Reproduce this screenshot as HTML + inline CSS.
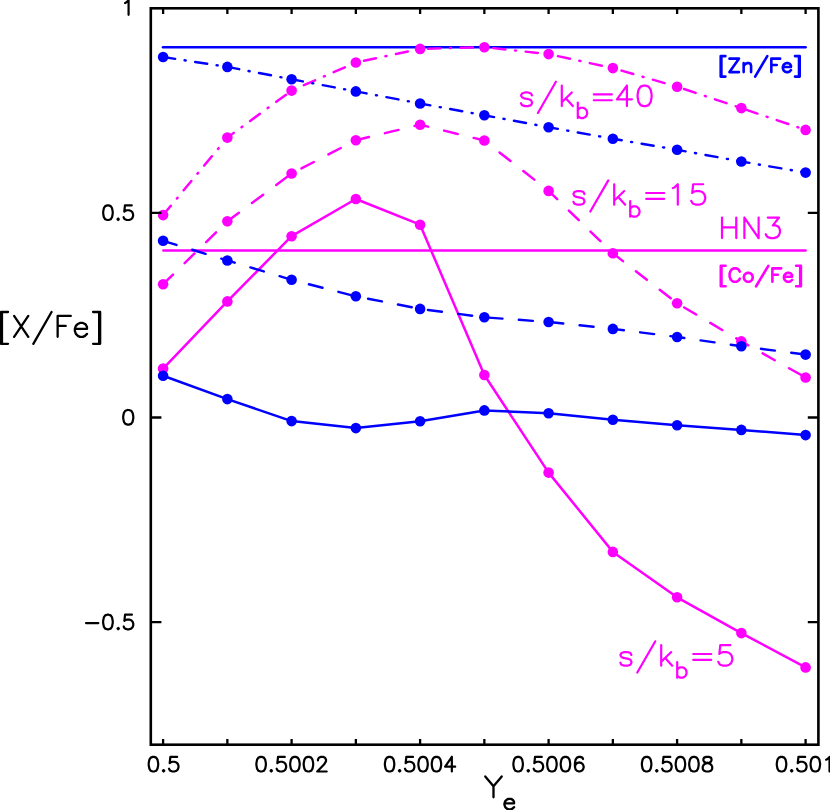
<!DOCTYPE html>
<html><head><meta charset="utf-8"><title>[X/Fe] vs Ye</title>
<style>html,body{margin:0;padding:0;background:#fff;font-family:"Liberation Sans",sans-serif;}svg{display:block;}</style></head>
<body>
<svg width="830" height="810" viewBox="0 0 830 810" role="img" aria-label="[X/Fe] versus Ye">
<desc>[X/Fe] vs Y_e; s/k_b=5, 15, 40; HN3 [Zn/Fe] [Co/Fe]; ticks 0.5 0.5002 0.5004 0.5006 0.5008 0.501; 1 0.5 0 -0.5</desc>
<rect width="830" height="810" fill="#fff"/>
<line x1="163.0" y1="47.2" x2="805.6" y2="47.2" stroke="#0000ff" stroke-width="2.5" stroke-linecap="round"/>
<line x1="163.4" y1="250.5" x2="805.6" y2="250.5" stroke="#ff00ff" stroke-width="2.5" stroke-linecap="round"/>
<polyline points="163.10,368.60 227.35,301.40 291.60,236.20 355.85,199.00 420.10,224.70 484.35,375.00 548.60,472.60 612.85,551.90 677.10,597.30 741.35,633.10 805.60,667.40" fill="none" stroke="#ff00ff" stroke-width="2.5" stroke-linecap="round" stroke-linejoin="round"/>
<circle cx="163.10" cy="368.60" r="5.3" fill="#ff00ff"/><circle cx="227.35" cy="301.40" r="5.3" fill="#ff00ff"/><circle cx="291.60" cy="236.20" r="5.3" fill="#ff00ff"/><circle cx="355.85" cy="199.00" r="5.3" fill="#ff00ff"/><circle cx="420.10" cy="224.70" r="5.3" fill="#ff00ff"/><circle cx="484.35" cy="375.00" r="5.3" fill="#ff00ff"/><circle cx="548.60" cy="472.60" r="5.3" fill="#ff00ff"/><circle cx="612.85" cy="551.90" r="5.3" fill="#ff00ff"/><circle cx="677.10" cy="597.30" r="5.3" fill="#ff00ff"/><circle cx="741.35" cy="633.10" r="5.3" fill="#ff00ff"/><circle cx="805.60" cy="667.40" r="5.3" fill="#ff00ff"/>
<g transform="scale(1 0.97590)"><polyline points="163.10,291.22 227.35,226.76 291.60,177.78 355.85,143.66 420.10,127.78 484.35,143.97 548.60,195.61 612.85,259.55 677.10,310.69 741.35,349.83 805.60,386.82" fill="none" stroke="#ff00ff" stroke-width="2.5" stroke-linecap="round" stroke-linejoin="round" stroke-dasharray="14 16.5"/></g>
<circle cx="163.10" cy="284.20" r="5.3" fill="#ff00ff"/><circle cx="227.35" cy="221.30" r="5.3" fill="#ff00ff"/><circle cx="291.60" cy="173.50" r="5.3" fill="#ff00ff"/><circle cx="355.85" cy="140.20" r="5.3" fill="#ff00ff"/><circle cx="420.10" cy="124.70" r="5.3" fill="#ff00ff"/><circle cx="484.35" cy="140.50" r="5.3" fill="#ff00ff"/><circle cx="548.60" cy="190.90" r="5.3" fill="#ff00ff"/><circle cx="612.85" cy="253.30" r="5.3" fill="#ff00ff"/><circle cx="677.10" cy="303.20" r="5.3" fill="#ff00ff"/><circle cx="741.35" cy="341.40" r="5.3" fill="#ff00ff"/><circle cx="805.60" cy="377.50" r="5.3" fill="#ff00ff"/>
<g transform="scale(1 0.97590)"><polyline points="163.10,220.41 227.35,141.00 291.60,92.84 355.85,64.04 420.10,50.11 484.35,48.37 548.60,55.44 612.85,69.78 677.10,88.84 741.35,110.77 805.60,133.11" fill="none" stroke="#ff00ff" stroke-width="2.5" stroke-linecap="round" stroke-linejoin="round" stroke-dasharray="12.25 9.7 1 9.7"/></g>
<circle cx="163.10" cy="215.10" r="5.3" fill="#ff00ff"/><circle cx="227.35" cy="137.60" r="5.3" fill="#ff00ff"/><circle cx="291.60" cy="90.60" r="5.3" fill="#ff00ff"/><circle cx="355.85" cy="62.50" r="5.3" fill="#ff00ff"/><circle cx="420.10" cy="48.90" r="5.3" fill="#ff00ff"/><circle cx="484.35" cy="47.20" r="5.3" fill="#ff00ff"/><circle cx="548.60" cy="54.10" r="5.3" fill="#ff00ff"/><circle cx="612.85" cy="68.10" r="5.3" fill="#ff00ff"/><circle cx="677.10" cy="86.70" r="5.3" fill="#ff00ff"/><circle cx="741.35" cy="108.10" r="5.3" fill="#ff00ff"/><circle cx="805.60" cy="129.90" r="5.3" fill="#ff00ff"/>
<polyline points="163.10,375.80 227.35,399.10 291.60,421.10 355.85,428.10 420.10,421.20 484.35,410.40 548.60,413.30 612.85,419.80 677.10,425.30 741.35,429.90 805.60,435.10" fill="none" stroke="#0000ff" stroke-width="2.5" stroke-linecap="round" stroke-linejoin="round"/>
<circle cx="163.10" cy="375.80" r="5.3" fill="#0000ff"/><circle cx="227.35" cy="399.10" r="5.3" fill="#0000ff"/><circle cx="291.60" cy="421.10" r="5.3" fill="#0000ff"/><circle cx="355.85" cy="428.10" r="5.3" fill="#0000ff"/><circle cx="420.10" cy="421.20" r="5.3" fill="#0000ff"/><circle cx="484.35" cy="410.40" r="5.3" fill="#0000ff"/><circle cx="548.60" cy="413.30" r="5.3" fill="#0000ff"/><circle cx="612.85" cy="419.80" r="5.3" fill="#0000ff"/><circle cx="677.10" cy="425.30" r="5.3" fill="#0000ff"/><circle cx="741.35" cy="429.90" r="5.3" fill="#0000ff"/><circle cx="805.60" cy="435.10" r="5.3" fill="#0000ff"/>
<g transform="scale(1 0.97590)"><polyline points="163.10,246.75 227.35,266.93 291.60,286.71 355.85,303.62 420.10,316.53 484.35,325.13 548.60,329.95 612.85,337.02 677.10,345.32 741.35,354.75 805.60,363.36" fill="none" stroke="#0000ff" stroke-width="2.5" stroke-linecap="round" stroke-linejoin="round" stroke-dasharray="14 16.5"/></g>
<circle cx="163.10" cy="240.80" r="5.3" fill="#0000ff"/><circle cx="227.35" cy="260.50" r="5.3" fill="#0000ff"/><circle cx="291.60" cy="279.80" r="5.3" fill="#0000ff"/><circle cx="355.85" cy="296.30" r="5.3" fill="#0000ff"/><circle cx="420.10" cy="308.90" r="5.3" fill="#0000ff"/><circle cx="484.35" cy="317.30" r="5.3" fill="#0000ff"/><circle cx="548.60" cy="322.00" r="5.3" fill="#0000ff"/><circle cx="612.85" cy="328.90" r="5.3" fill="#0000ff"/><circle cx="677.10" cy="337.00" r="5.3" fill="#0000ff"/><circle cx="741.35" cy="346.20" r="5.3" fill="#0000ff"/><circle cx="805.60" cy="354.60" r="5.3" fill="#0000ff"/>
<g transform="scale(1 0.97590)"><polyline points="163.10,58.41 227.35,68.55 291.60,81.26 355.85,93.66 420.10,106.06 484.35,118.15 548.60,130.34 612.85,142.23 677.10,153.50 741.35,165.49 805.60,176.86" fill="none" stroke="#0000ff" stroke-width="2.5" stroke-linecap="round" stroke-linejoin="round" stroke-dasharray="12.15 9.65 1 9.65"/></g>
<circle cx="163.10" cy="57.00" r="5.3" fill="#0000ff"/><circle cx="227.35" cy="66.90" r="5.3" fill="#0000ff"/><circle cx="291.60" cy="79.30" r="5.3" fill="#0000ff"/><circle cx="355.85" cy="91.40" r="5.3" fill="#0000ff"/><circle cx="420.10" cy="103.50" r="5.3" fill="#0000ff"/><circle cx="484.35" cy="115.30" r="5.3" fill="#0000ff"/><circle cx="548.60" cy="127.20" r="5.3" fill="#0000ff"/><circle cx="612.85" cy="138.80" r="5.3" fill="#0000ff"/><circle cx="677.10" cy="149.80" r="5.3" fill="#0000ff"/><circle cx="741.35" cy="161.50" r="5.3" fill="#0000ff"/><circle cx="805.60" cy="172.60" r="5.3" fill="#0000ff"/>
<rect x="150.8" y="8.3" width="667.60" height="736.40" fill="none" stroke="#000" stroke-width="2.6"/>
<path d="M163.10 744.7 v-5.8 M163.10 8.3 v5.8 M227.35 744.7 v-5.8 M227.35 8.3 v5.8 M291.60 744.7 v-5.8 M291.60 8.3 v5.8 M355.85 744.7 v-5.8 M355.85 8.3 v5.8 M420.10 744.7 v-5.8 M420.10 8.3 v5.8 M484.35 744.7 v-5.8 M484.35 8.3 v5.8 M548.60 744.7 v-5.8 M548.60 8.3 v5.8 M612.85 744.7 v-5.8 M612.85 8.3 v5.8 M677.10 744.7 v-5.8 M677.10 8.3 v5.8 M741.35 744.7 v-5.8 M741.35 8.3 v5.8 M805.60 744.7 v-5.8 M805.60 8.3 v5.8 M150.8 212.90 h10.6 M818.4 212.90 h-10.6 M150.8 417.50 h10.6 M818.4 417.50 h-10.6 M150.8 622.10 h10.6 M818.4 622.10 h-10.6" stroke="#000" stroke-width="2.3" fill="none"/>
<path d="M152.76 756.90 L150.73 757.60 L149.38 759.68 L148.70 763.16 L148.70 765.25 L149.38 768.72 L150.73 770.80 L152.76 771.50 L154.12 771.50 L156.15 770.80 L157.50 768.72 L158.18 765.25 L158.18 763.16 L157.50 759.68 L156.15 757.60 L154.12 756.90 L152.76 756.90 M163.60 770.11 L162.92 770.80 L163.60 771.50 L164.28 770.80 L163.60 770.11 M177.15 756.90 L170.37 756.90 L169.70 763.16 L170.37 762.47 L172.40 761.77 L174.44 761.77 L176.47 762.47 L177.82 763.86 L178.50 765.94 L178.50 767.33 L177.82 769.41 L176.47 770.80 L174.44 771.50 L172.40 771.50 L170.37 770.80 L169.70 770.11 L169.02 768.72" fill="none" stroke="#000000" stroke-width="2.2" stroke-linecap="round" stroke-linejoin="round"/>
<path d="M260.46 756.90 L258.43 757.60 L257.08 759.68 L256.40 763.16 L256.40 765.25 L257.08 768.72 L258.43 770.80 L260.46 771.50 L261.81 771.50 L263.84 770.80 L265.19 768.72 L265.86 765.25 L265.86 763.16 L265.19 759.68 L263.84 757.60 L261.81 756.90 L260.46 756.90 M271.27 770.11 L270.60 770.80 L271.27 771.50 L271.95 770.80 L271.27 770.11 M284.79 756.90 L278.03 756.90 L277.35 763.16 L278.03 762.47 L280.06 761.77 L282.09 761.77 L284.11 762.47 L285.47 763.86 L286.14 765.94 L286.14 767.33 L285.47 769.41 L284.11 770.80 L282.09 771.50 L280.06 771.50 L278.03 770.80 L277.35 770.11 L276.68 768.72 M294.25 756.90 L292.23 757.60 L290.87 759.68 L290.20 763.16 L290.20 765.25 L290.87 768.72 L292.23 770.80 L294.25 771.50 L295.61 771.50 L297.63 770.80 L298.99 768.72 L299.66 765.25 L299.66 763.16 L298.99 759.68 L297.63 757.60 L295.61 756.90 L294.25 756.90 M307.77 756.90 L305.75 757.60 L304.39 759.68 L303.72 763.16 L303.72 765.25 L304.39 768.72 L305.75 770.80 L307.77 771.50 L309.12 771.50 L311.15 770.80 L312.50 768.72 L313.18 765.25 L313.18 763.16 L312.50 759.68 L311.15 757.60 L309.12 756.90 L307.77 756.90 M317.91 760.38 L317.91 759.68 L318.59 758.29 L319.26 757.60 L320.62 756.90 L323.32 756.90 L324.67 757.60 L325.35 758.29 L326.02 759.68 L326.02 761.08 L325.35 762.47 L324.00 764.55 L317.24 771.50 L326.70 771.50" fill="none" stroke="#000000" stroke-width="2.2" stroke-linecap="round" stroke-linejoin="round"/>
<path d="M388.92 756.90 L386.91 757.60 L385.57 759.68 L384.90 763.16 L384.90 765.25 L385.57 768.72 L386.91 770.80 L388.92 771.50 L390.26 771.50 L392.26 770.80 L393.60 768.72 L394.27 765.25 L394.27 763.16 L393.60 759.68 L392.26 757.60 L390.26 756.90 L388.92 756.90 M399.63 770.11 L398.96 770.80 L399.63 771.50 L400.30 770.80 L399.63 770.11 M413.02 756.90 L406.32 756.90 L405.66 763.16 L406.32 762.47 L408.33 761.77 L410.34 761.77 L412.35 762.47 L413.69 763.86 L414.36 765.94 L414.36 767.33 L413.69 769.41 L412.35 770.80 L410.34 771.50 L408.33 771.50 L406.32 770.80 L405.66 770.11 L404.99 768.72 M422.39 756.90 L420.38 757.60 L419.05 759.68 L418.38 763.16 L418.38 765.25 L419.05 768.72 L420.38 770.80 L422.39 771.50 L423.73 771.50 L425.74 770.80 L427.08 768.72 L427.75 765.25 L427.75 763.16 L427.08 759.68 L425.74 757.60 L423.73 756.90 L422.39 756.90 M435.78 756.90 L433.78 757.60 L432.44 759.68 L431.77 763.16 L431.77 765.25 L432.44 768.72 L433.78 770.80 L435.78 771.50 L437.12 771.50 L439.13 770.80 L440.47 768.72 L441.14 765.25 L441.14 763.16 L440.47 759.68 L439.13 757.60 L437.12 756.90 L435.78 756.90 M451.85 756.90 L445.16 766.63 L455.20 766.63 M451.85 756.90 L451.85 771.50" fill="none" stroke="#000000" stroke-width="2.2" stroke-linecap="round" stroke-linejoin="round"/>
<path d="M517.46 756.90 L515.43 757.60 L514.08 759.68 L513.40 763.16 L513.40 765.25 L514.08 768.72 L515.43 770.80 L517.46 771.50 L518.81 771.50 L520.84 770.80 L522.19 768.72 L522.86 765.25 L522.86 763.16 L522.19 759.68 L520.84 757.60 L518.81 756.90 L517.46 756.90 M528.27 770.11 L527.60 770.80 L528.27 771.50 L528.95 770.80 L528.27 770.11 M541.79 756.90 L535.03 756.90 L534.35 763.16 L535.03 762.47 L537.06 761.77 L539.09 761.77 L541.11 762.47 L542.47 763.86 L543.14 765.94 L543.14 767.33 L542.47 769.41 L541.11 770.80 L539.09 771.50 L537.06 771.50 L535.03 770.80 L534.35 770.11 L533.68 768.72 M551.25 756.90 L549.23 757.60 L547.87 759.68 L547.20 763.16 L547.20 765.25 L547.87 768.72 L549.23 770.80 L551.25 771.50 L552.61 771.50 L554.63 770.80 L555.99 768.72 L556.66 765.25 L556.66 763.16 L555.99 759.68 L554.63 757.60 L552.61 756.90 L551.25 756.90 M564.77 756.90 L562.75 757.60 L561.39 759.68 L560.72 763.16 L560.72 765.25 L561.39 768.72 L562.75 770.80 L564.77 771.50 L566.13 771.50 L568.15 770.80 L569.50 768.72 L570.18 765.25 L570.18 763.16 L569.50 759.68 L568.15 757.60 L566.13 756.90 L564.77 756.90 M583.02 758.99 L582.35 757.60 L580.32 756.90 L578.97 756.90 L576.94 757.60 L575.59 759.68 L574.91 763.16 L574.91 766.63 L575.59 769.41 L576.94 770.80 L578.97 771.50 L579.64 771.50 L581.67 770.80 L583.02 769.41 L583.70 767.33 L583.70 766.63 L583.02 764.55 L581.67 763.16 L579.64 762.47 L578.97 762.47 L576.94 763.16 L575.59 764.55 L574.91 766.63" fill="none" stroke="#000000" stroke-width="2.2" stroke-linecap="round" stroke-linejoin="round"/>
<path d="M645.96 756.90 L643.93 757.60 L642.58 759.68 L641.90 763.16 L641.90 765.25 L642.58 768.72 L643.93 770.80 L645.96 771.50 L647.31 771.50 L649.34 770.80 L650.69 768.72 L651.36 765.25 L651.36 763.16 L650.69 759.68 L649.34 757.60 L647.31 756.90 L645.96 756.90 M656.77 770.11 L656.10 770.80 L656.77 771.50 L657.45 770.80 L656.77 770.11 M670.29 756.90 L663.53 756.90 L662.85 763.16 L663.53 762.47 L665.56 761.77 L667.59 761.77 L669.61 762.47 L670.97 763.86 L671.64 765.94 L671.64 767.33 L670.97 769.41 L669.61 770.80 L667.59 771.50 L665.56 771.50 L663.53 770.80 L662.85 770.11 L662.18 768.72 M679.75 756.90 L677.73 757.60 L676.37 759.68 L675.70 763.16 L675.70 765.25 L676.37 768.72 L677.73 770.80 L679.75 771.50 L681.11 771.50 L683.13 770.80 L684.49 768.72 L685.16 765.25 L685.16 763.16 L684.49 759.68 L683.13 757.60 L681.11 756.90 L679.75 756.90 M693.27 756.90 L691.25 757.60 L689.89 759.68 L689.22 763.16 L689.22 765.25 L689.89 768.72 L691.25 770.80 L693.27 771.50 L694.63 771.50 L696.65 770.80 L698.00 768.72 L698.68 765.25 L698.68 763.16 L698.00 759.68 L696.65 757.60 L694.63 756.90 L693.27 756.90 M706.12 756.90 L704.09 757.60 L703.41 758.99 L703.41 760.38 L704.09 761.77 L705.44 762.47 L708.14 763.16 L710.17 763.86 L711.52 765.25 L712.20 766.63 L712.20 768.72 L711.52 770.11 L710.85 770.80 L708.82 771.50 L706.12 771.50 L704.09 770.80 L703.41 770.11 L702.74 768.72 L702.74 766.63 L703.41 765.25 L704.76 763.86 L706.79 763.16 L709.50 762.47 L710.85 761.77 L711.52 760.38 L711.52 758.99 L710.85 757.60 L708.82 756.90 L706.12 756.90" fill="none" stroke="#000000" stroke-width="2.2" stroke-linecap="round" stroke-linejoin="round"/>
<path d="M780.86 756.90 L778.83 757.60 L777.48 759.68 L776.80 763.16 L776.80 765.25 L777.48 768.72 L778.83 770.80 L780.86 771.50 L782.21 771.50 L784.24 770.80 L785.59 768.72 L786.26 765.25 L786.26 763.16 L785.59 759.68 L784.24 757.60 L782.21 756.90 L780.86 756.90 M791.67 770.11 L791.00 770.80 L791.67 771.50 L792.35 770.80 L791.67 770.11 M805.19 756.90 L798.43 756.90 L797.76 763.16 L798.43 762.47 L800.46 761.77 L802.49 761.77 L804.52 762.47 L805.87 763.86 L806.54 765.94 L806.54 767.33 L805.87 769.41 L804.52 770.80 L802.49 771.50 L800.46 771.50 L798.43 770.80 L797.76 770.11 L797.08 768.72 M814.66 756.90 L812.63 757.60 L811.28 759.68 L810.60 763.16 L810.60 765.25 L811.28 768.72 L812.63 770.80 L814.66 771.50 L816.01 771.50 L818.04 770.80 L819.39 768.72 L820.06 765.25 L820.06 763.16 L819.39 759.68 L818.04 757.60 L816.01 756.90 L814.66 756.90 M826.15 759.68 L827.50 758.99 L829.53 756.90 L829.53 771.50" fill="none" stroke="#000000" stroke-width="2.2" stroke-linecap="round" stroke-linejoin="round"/>
<path d="M125.10 2.99 L126.49 2.29 L128.58 0.21 L128.58 14.80" fill="none" stroke="#000000" stroke-width="2.2" stroke-linecap="round" stroke-linejoin="round"/>
<path d="M107.28 205.41 L105.24 206.10 L103.88 208.19 L103.20 211.66 L103.20 213.75 L103.88 217.22 L105.24 219.31 L107.28 220.00 L108.64 220.00 L110.67 219.31 L112.03 217.22 L112.71 213.75 L112.71 211.66 L112.03 208.19 L110.67 206.10 L108.64 205.41 L107.28 205.41 M118.15 218.61 L117.47 219.31 L118.15 220.00 L118.83 219.31 L118.15 218.61 M131.74 205.41 L124.95 205.41 L124.27 211.66 L124.95 210.97 L126.98 210.27 L129.02 210.27 L131.06 210.97 L132.42 212.35 L133.10 214.44 L133.10 215.83 L132.42 217.91 L131.06 219.31 L129.02 220.00 L126.98 220.00 L124.95 219.31 L124.27 218.61 L123.59 217.22" fill="none" stroke="#000000" stroke-width="2.2" stroke-linecap="round" stroke-linejoin="round"/>
<path d="M127.53 410.00 L125.36 410.70 L123.92 412.78 L123.20 416.26 L123.20 418.34 L123.92 421.82 L125.36 423.90 L127.53 424.60 L128.97 424.60 L131.14 423.90 L132.58 421.82 L133.30 418.34 L133.30 416.26 L132.58 412.78 L131.14 410.70 L128.97 410.00 L127.53 410.00" fill="none" stroke="#000000" stroke-width="2.2" stroke-linecap="round" stroke-linejoin="round"/>
<path d="M86.00 623.04 L98.34 623.04 M107.25 614.70 L105.19 615.40 L103.82 617.48 L103.14 620.96 L103.14 623.04 L103.82 626.52 L105.19 628.60 L107.25 629.30 L108.62 629.30 L110.68 628.60 L112.05 626.52 L112.73 623.04 L112.73 620.96 L112.05 617.48 L110.68 615.40 L108.62 614.70 L107.25 614.70 M118.22 627.91 L117.53 628.60 L118.22 629.30 L118.90 628.60 L118.22 627.91 M131.93 614.70 L125.07 614.70 L124.39 620.96 L125.07 620.26 L127.13 619.57 L129.19 619.57 L131.24 620.26 L132.61 621.65 L133.30 623.74 L133.30 625.13 L132.61 627.21 L131.24 628.60 L129.19 629.30 L127.13 629.30 L125.07 628.60 L124.39 627.91 L123.70 626.52" fill="none" stroke="#000000" stroke-width="2.2" stroke-linecap="round" stroke-linejoin="round"/>
<path d="M0.95 311.98 L0.95 343.81 M1.96 311.98 L1.96 343.81 M0.95 311.98 L8.04 311.98 M0.95 343.81 L8.04 343.81 M14.11 315.96 L28.28 336.85 M28.28 315.96 L14.11 336.85 M51.56 311.98 L33.34 343.81 M57.64 315.96 L57.64 336.85 M57.64 315.96 L70.79 315.96 M57.64 325.91 L65.73 325.91 M74.84 328.89 L86.99 328.89 L86.99 326.90 L85.98 324.91 L84.97 323.92 L82.94 322.92 L79.91 322.92 L77.88 323.92 L75.86 325.91 L74.84 328.89 L74.84 330.88 L75.86 333.87 L77.88 335.86 L79.91 336.85 L82.94 336.85 L84.97 335.86 L86.99 333.87 M99.14 311.98 L99.14 343.81 M100.15 311.98 L100.15 343.81 M93.06 311.98 L100.15 311.98 M93.06 343.81 L100.15 343.81" fill="none" stroke="#000000" stroke-width="2.3" stroke-linecap="round" stroke-linejoin="round"/>
<path d="M485.25 776.46 L493.49 786.36 L493.49 797.25 M501.73 776.46 L493.49 786.36" fill="none" stroke="#000000" stroke-width="2.3" stroke-linecap="round" stroke-linejoin="round"/>
<path d="M504.45 803.40 L514.05 803.40 L514.05 801.90 L513.25 800.40 L512.45 799.65 L510.85 798.90 L508.45 798.90 L506.85 799.65 L505.25 801.15 L504.45 803.40 L504.45 804.90 L505.25 807.15 L506.85 808.65 L508.45 809.40 L510.85 809.40 L512.45 808.65 L514.05 807.15" fill="none" stroke="#000000" stroke-width="2.3" stroke-linecap="round" stroke-linejoin="round"/>
<path d="M720.70 56.10 L720.70 76.58 M721.38 56.10 L721.38 76.58 M720.70 56.10 L725.43 56.10 M720.70 76.58 L725.43 76.58 M738.93 58.66 L729.48 72.10 M729.48 58.66 L738.93 58.66 M729.48 72.10 L738.93 72.10 M743.66 63.14 L743.66 72.10 M743.66 65.70 L745.68 63.78 L747.03 63.14 L749.06 63.14 L750.41 63.78 L751.08 65.70 L751.08 72.10 M767.29 56.10 L755.14 76.58 M771.34 58.66 L771.34 72.10 M771.34 58.66 L780.12 58.66 M771.34 65.06 L776.74 65.06 M782.82 66.98 L790.92 66.98 L790.92 65.70 L790.25 64.42 L789.57 63.78 L788.22 63.14 L786.20 63.14 L784.85 63.78 L783.49 65.06 L782.82 66.98 L782.82 68.26 L783.49 70.18 L784.85 71.46 L786.20 72.10 L788.22 72.10 L789.57 71.46 L790.92 70.18 M799.02 56.10 L799.02 76.58 M799.70 56.10 L799.70 76.58 M794.97 56.10 L799.70 56.10 M794.97 76.58 L799.70 76.58" fill="none" stroke="#0000ff" stroke-width="2.6" stroke-linecap="round" stroke-linejoin="round"/>
<path d="M720.80 265.80 L720.80 286.28 M721.48 265.80 L721.48 286.28 M720.80 265.80 L725.55 265.80 M720.80 286.28 L725.55 286.28 M739.81 271.56 L739.13 270.28 L737.77 269.00 L736.41 268.36 L733.70 268.36 L732.34 269.00 L730.98 270.28 L730.30 271.56 L729.62 273.48 L729.62 276.68 L730.30 278.60 L730.98 279.88 L732.34 281.16 L733.70 281.80 L736.41 281.80 L737.77 281.16 L739.13 279.88 L739.81 278.60 M747.27 272.84 L745.92 273.48 L744.56 274.76 L743.88 276.68 L743.88 277.96 L744.56 279.88 L745.92 281.16 L747.27 281.80 L749.31 281.80 L750.67 281.16 L752.03 279.88 L752.70 277.96 L752.70 276.68 L752.03 274.76 L750.67 273.48 L749.31 272.84 L747.27 272.84 M768.32 265.80 L756.10 286.28 M772.39 268.36 L772.39 281.80 M772.39 268.36 L781.21 268.36 M772.39 274.76 L777.82 274.76 M783.93 276.68 L792.08 276.68 L792.08 275.40 L791.40 274.12 L790.72 273.48 L789.36 272.84 L787.32 272.84 L785.97 273.48 L784.61 274.76 L783.93 276.68 L783.93 277.96 L784.61 279.88 L785.97 281.16 L787.32 281.80 L789.36 281.80 L790.72 281.16 L792.08 279.88 M800.22 265.80 L800.22 286.28 M800.90 265.80 L800.90 286.28 M796.15 265.80 L800.90 265.80 M796.15 286.28 L800.90 286.28" fill="none" stroke="#ff00ff" stroke-width="2.6" stroke-linecap="round" stroke-linejoin="round"/>
<path d="M722.00 217.62 L722.00 238.10 M736.25 217.62 L736.25 238.10 M722.00 227.38 L736.25 227.38 M744.39 217.62 L744.39 238.10 M744.39 217.62 L758.63 238.10 M758.63 217.62 L758.63 238.10 M767.79 217.62 L778.98 217.62 L772.88 225.42 L775.93 225.42 L777.96 226.40 L778.98 227.38 L780.00 230.30 L780.00 232.25 L778.98 235.17 L776.95 237.12 L773.89 238.10 L770.84 238.10 L767.79 237.12 L766.77 236.15 L765.75 234.20" fill="none" stroke="#ff00ff" stroke-width="2.2" stroke-linecap="round" stroke-linejoin="round"/>
<path d="M631.40 654.97 L630.40 653.02 L627.40 652.05 L624.40 652.05 L621.40 653.02 L620.40 654.97 L621.40 656.92 L623.40 657.90 L628.40 658.87 L630.40 659.85 L631.40 661.80 L631.40 662.77 L630.40 664.72 L627.40 665.70 L624.40 665.70 L621.40 664.72 L620.40 662.77" fill="none" stroke="#ff00ff" stroke-width="2.2" stroke-linecap="round" stroke-linejoin="round"/><path d="M655.30 641.32 L637.30 672.52" fill="none" stroke="#ff00ff" stroke-width="2.2" stroke-linecap="round" stroke-linejoin="round"/><path d="M661.20 645.22 L661.20 665.70 M671.20 652.05 L661.20 661.80 M665.20 657.90 L672.20 665.70" fill="none" stroke="#ff00ff" stroke-width="2.2" stroke-linecap="round" stroke-linejoin="round"/><path d="M693.20 654.00 L711.20 654.00 M693.20 659.85 L711.20 659.85" fill="none" stroke="#ff00ff" stroke-width="2.2" stroke-linecap="round" stroke-linejoin="round"/><path d="M677.20 662.16 L677.20 677.70 M677.20 669.56 L678.76 668.08 L680.32 667.34 L682.66 667.34 L684.22 668.08 L685.78 669.56 L686.56 671.78 L686.56 673.26 L685.78 675.48 L684.22 676.96 L682.66 677.70 L680.32 677.70 L678.76 676.96 L677.20 675.48" fill="none" stroke="#ff00ff" stroke-width="2.2" stroke-linecap="round" stroke-linejoin="round"/><path d="M730.30 645.22 L720.30 645.22 L719.30 654.00 L720.30 653.02 L723.30 652.05 L726.30 652.05 L729.30 653.02 L731.30 654.97 L732.30 657.90 L732.30 659.85 L731.30 662.77 L729.30 664.72 L726.30 665.70 L723.30 665.70 L720.30 664.72 L719.30 663.75 L718.30 661.80" fill="none" stroke="#ff00ff" stroke-width="2.2" stroke-linecap="round" stroke-linejoin="round"/>
<path d="M532.00 95.38 L531.00 93.43 L528.00 92.45 L525.00 92.45 L522.00 93.43 L521.00 95.38 L522.00 97.33 L524.00 98.30 L529.00 99.28 L531.00 100.25 L532.00 102.20 L532.00 103.18 L531.00 105.13 L528.00 106.10 L525.00 106.10 L522.00 105.13 L521.00 103.18" fill="none" stroke="#ff00ff" stroke-width="2.2" stroke-linecap="round" stroke-linejoin="round"/><path d="M555.90 81.73 L537.90 112.93" fill="none" stroke="#ff00ff" stroke-width="2.2" stroke-linecap="round" stroke-linejoin="round"/><path d="M561.80 85.63 L561.80 106.10 M571.80 92.45 L561.80 102.20 M565.80 98.30 L572.80 106.10" fill="none" stroke="#ff00ff" stroke-width="2.2" stroke-linecap="round" stroke-linejoin="round"/><path d="M593.80 94.40 L611.80 94.40 M593.80 100.25 L611.80 100.25" fill="none" stroke="#ff00ff" stroke-width="2.2" stroke-linecap="round" stroke-linejoin="round"/><path d="M577.80 102.56 L577.80 118.10 M577.80 109.96 L579.36 108.48 L580.92 107.74 L583.26 107.74 L584.82 108.48 L586.38 109.96 L587.16 112.18 L587.16 113.66 L586.38 115.88 L584.82 117.36 L583.26 118.10 L580.92 118.10 L579.36 117.36 L577.80 115.88" fill="none" stroke="#ff00ff" stroke-width="2.2" stroke-linecap="round" stroke-linejoin="round"/><path d="M626.90 85.63 L616.90 99.28 L631.90 99.28 M626.90 85.63 L626.90 106.10" fill="none" stroke="#ff00ff" stroke-width="2.2" stroke-linecap="round" stroke-linejoin="round"/><path d="M643.60 85.63 L640.60 86.60 L638.60 89.53 L637.60 94.40 L637.60 97.33 L638.60 102.20 L640.60 105.13 L643.60 106.10 L645.60 106.10 L648.60 105.13 L650.60 102.20 L651.60 97.33 L651.60 94.40 L650.60 89.53 L648.60 86.60 L645.60 85.63 L643.60 85.63" fill="none" stroke="#ff00ff" stroke-width="2.2" stroke-linecap="round" stroke-linejoin="round"/>
<path d="M584.40 193.98 L583.40 192.03 L580.40 191.05 L577.40 191.05 L574.40 192.03 L573.40 193.98 L574.40 195.93 L576.40 196.90 L581.40 197.88 L583.40 198.85 L584.40 200.80 L584.40 201.78 L583.40 203.73 L580.40 204.70 L577.40 204.70 L574.40 203.73 L573.40 201.78" fill="none" stroke="#ff00ff" stroke-width="2.2" stroke-linecap="round" stroke-linejoin="round"/><path d="M608.30 180.33 L590.30 211.53" fill="none" stroke="#ff00ff" stroke-width="2.2" stroke-linecap="round" stroke-linejoin="round"/><path d="M614.20 184.23 L614.20 204.70 M624.20 191.05 L614.20 200.80 M618.20 196.90 L625.20 204.70" fill="none" stroke="#ff00ff" stroke-width="2.2" stroke-linecap="round" stroke-linejoin="round"/><path d="M646.20 193.00 L664.20 193.00 M646.20 198.85 L664.20 198.85" fill="none" stroke="#ff00ff" stroke-width="2.2" stroke-linecap="round" stroke-linejoin="round"/><path d="M630.20 201.16 L630.20 216.70 M630.20 208.56 L631.76 207.08 L633.32 206.34 L635.66 206.34 L637.22 207.08 L638.78 208.56 L639.56 210.78 L639.56 212.26 L638.78 214.48 L637.22 215.96 L635.66 216.70 L633.32 216.70 L631.76 215.96 L630.20 214.48" fill="none" stroke="#ff00ff" stroke-width="2.2" stroke-linecap="round" stroke-linejoin="round"/><path d="M672.80 188.13 L674.80 187.15 L677.80 184.23 L677.80 204.70" fill="none" stroke="#ff00ff" stroke-width="2.2" stroke-linecap="round" stroke-linejoin="round"/><path d="M703.20 184.23 L693.20 184.23 L692.20 193.00 L693.20 192.03 L696.20 191.05 L699.20 191.05 L702.20 192.03 L704.20 193.98 L705.20 196.90 L705.20 198.85 L704.20 201.78 L702.20 203.73 L699.20 204.70 L696.20 204.70 L693.20 203.73 L692.20 202.75 L691.20 200.80" fill="none" stroke="#ff00ff" stroke-width="2.2" stroke-linecap="round" stroke-linejoin="round"/>
</svg>
</body></html>
